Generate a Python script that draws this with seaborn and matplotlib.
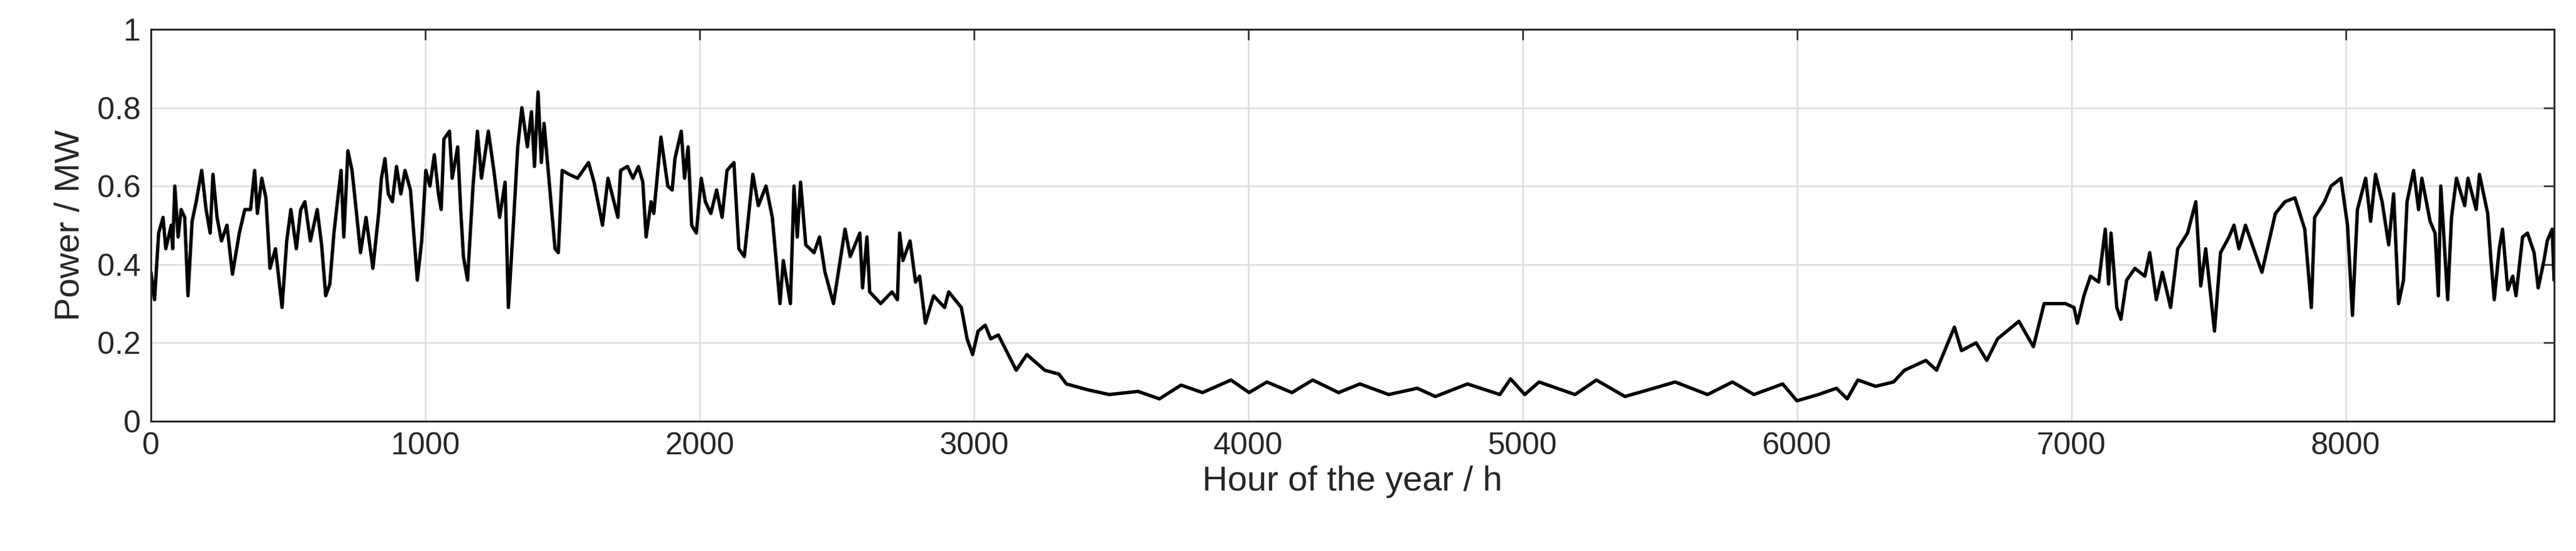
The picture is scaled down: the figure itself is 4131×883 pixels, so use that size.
import matplotlib
matplotlib.use("Agg")
import matplotlib.pyplot as plt
import seaborn as sns
import pandas as pd

# --- values (hour, MW) ---
hours = [
    0, 13, 28, 44, 54, 74, 79, 87, 99, 110, 123, 135, 150, 165, 185, 201, 216, 226, 241, 257,
    277, 297, 322, 342, 363, 378, 388, 404, 419, 434, 454, 478, 495, 510, 530, 546, 561, 581, 606, 622,
    637, 652, 667, 683, 693, 703, 718, 733, 748, 764, 784, 809, 830, 840, 853, 865, 880, 895, 911, 926,
    946, 971, 987, 1002, 1017, 1033, 1048, 1058, 1068, 1088, 1098, 1118, 1129, 1139, 1154, 1174, 1190, 1205, 1230, 1250,
    1271, 1291, 1303, 1321, 1337, 1352, 1372, 1387, 1398, 1411, 1423, 1433, 1458, 1473, 1485, 1499, 1524, 1555, 1595, 1615,
    1646, 1666, 1702, 1712, 1737, 1757, 1777, 1793, 1805, 1823, 1833, 1859, 1884, 1900, 1910, 1933, 1945, 1958, 1971, 1988,
    2006, 2021, 2041, 2062, 2082, 2100, 2125, 2143, 2163, 2194, 2214, 2242, 2265, 2293, 2305, 2331, 2344, 2356, 2368, 2387,
    2417, 2437, 2457, 2488, 2508, 2530, 2549, 2584, 2594, 2610, 2620, 2660, 2701, 2721, 2729, 2741, 2767, 2787, 2802, 2823,
    2853, 2893, 2908, 2954, 2975, 2995, 3015, 3041, 3061, 3089, 3154, 3193, 3258, 3310, 3337, 3415, 3493, 3598, 3676, 3755,
    3833, 3937, 4003, 4068, 4159, 4235, 4329, 4407, 4512, 4616, 4682, 4799, 4917, 4956, 5008, 5060, 5191, 5269, 5373, 5478,
    5556, 5674, 5765, 5843, 5948, 6000, 6078, 6144, 6183, 6222, 6287, 6352, 6392, 6470, 6509, 6574, 6600, 6653, 6692, 6731,
    6809, 6862, 6901, 6979, 7010, 7022, 7046, 7070, 7100, 7124, 7136, 7145, 7166, 7181, 7202, 7232, 7268, 7286, 7310, 7332,
    7362, 7388, 7424, 7454, 7472, 7490, 7522, 7544, 7575, 7593, 7611, 7635, 7695, 7744, 7779, 7815, 7851, 7875, 7887, 7923,
    7947, 7983, 8007, 8025, 8043, 8073, 8091, 8109, 8133, 8157, 8175, 8193, 8211, 8224, 8248, 8266, 8278, 8308, 8326, 8338,
    8347, 8372, 8386, 8404, 8434, 8446, 8476, 8488, 8518, 8530, 8542, 8560, 8572, 8591, 8609, 8621, 8645, 8663, 8687, 8702,
    8723, 8735, 8753, 8760,
]
power = [
    0.38, 0.31, 0.48, 0.52, 0.44, 0.50, 0.44, 0.60, 0.47, 0.54, 0.52, 0.32, 0.51, 0.56, 0.64, 0.54, 0.48, 0.63, 0.52, 0.46,
    0.50, 0.375, 0.48, 0.54, 0.54, 0.64, 0.53, 0.62, 0.57, 0.39, 0.44, 0.29, 0.46, 0.54, 0.44, 0.54, 0.56, 0.46, 0.54, 0.45,
    0.32, 0.35, 0.48, 0.58, 0.64, 0.47, 0.69, 0.64, 0.54, 0.43, 0.52, 0.39, 0.53, 0.62, 0.67, 0.58, 0.56, 0.65, 0.58, 0.64,
    0.59, 0.36, 0.46, 0.64, 0.60, 0.68, 0.58, 0.54, 0.72, 0.74, 0.62, 0.70, 0.54, 0.42, 0.36, 0.60, 0.74, 0.62, 0.74, 0.64,
    0.52, 0.61, 0.29, 0.50, 0.70, 0.80, 0.70, 0.79, 0.65, 0.84, 0.66, 0.76, 0.56, 0.44, 0.43, 0.64, 0.63, 0.62, 0.66, 0.61,
    0.50, 0.62, 0.52, 0.64, 0.65, 0.62, 0.65, 0.61, 0.47, 0.56, 0.53, 0.725, 0.60, 0.59, 0.67, 0.74, 0.62, 0.70, 0.50, 0.48,
    0.62, 0.56, 0.53, 0.59, 0.52, 0.64, 0.66, 0.44, 0.42, 0.63, 0.55, 0.60, 0.52, 0.30, 0.41, 0.30, 0.60, 0.47, 0.61, 0.45,
    0.43, 0.47, 0.38, 0.30, 0.39, 0.49, 0.42, 0.48, 0.34, 0.47, 0.33, 0.30, 0.33, 0.31, 0.48, 0.41, 0.46, 0.355, 0.37, 0.25,
    0.32, 0.29, 0.33, 0.29, 0.21, 0.17, 0.23, 0.245, 0.21, 0.22, 0.13, 0.17, 0.13, 0.12, 0.095, 0.08, 0.068, 0.076, 0.057, 0.092,
    0.073, 0.105, 0.073, 0.10, 0.073, 0.105, 0.073, 0.095, 0.068, 0.084, 0.063, 0.095, 0.068, 0.108, 0.068, 0.10, 0.068, 0.105, 0.063, 0.084,
    0.10, 0.068, 0.10, 0.068, 0.095, 0.052, 0.068, 0.084, 0.057, 0.105, 0.089, 0.10, 0.13, 0.155, 0.13, 0.24, 0.18, 0.20, 0.155, 0.21,
    0.255, 0.19, 0.30, 0.30, 0.29, 0.25, 0.32, 0.37, 0.355, 0.49, 0.35, 0.48, 0.29, 0.26, 0.36, 0.39, 0.37, 0.43, 0.31, 0.38,
    0.29, 0.44, 0.48, 0.56, 0.345, 0.44, 0.23, 0.43, 0.47, 0.50, 0.44, 0.50, 0.38, 0.53, 0.56, 0.57, 0.49, 0.29, 0.52, 0.56,
    0.60, 0.62, 0.50, 0.27, 0.54, 0.62, 0.51, 0.63, 0.56, 0.45, 0.58, 0.30, 0.36, 0.56, 0.64, 0.54, 0.62, 0.51, 0.48, 0.32,
    0.60, 0.31, 0.52, 0.62, 0.55, 0.62, 0.54, 0.63, 0.53, 0.41, 0.31, 0.44, 0.49, 0.335, 0.37, 0.32, 0.47, 0.48, 0.43, 0.34,
    0.41, 0.46, 0.49, 0.36,
]
x_ticks = [0, 1000, 2000, 3000, 4000, 5000, 6000, 7000, 8000]
y_ticks = [0, 0.2, 0.4, 0.6, 0.8, 1]
y_tick_labels = ["0", "0.2", "0.4", "0.6", "0.8", "1"]

sns.set_style("white")
plt.rcParams['font.family'] = ['Liberation Sans', 'DejaVu Sans']

df = pd.DataFrame({'hour': hours, 'power': power})

fig = plt.figure(figsize=(4131 / 300, 883 / 300), dpi=300)
ax = fig.add_axes([0.0586, 0.2356, 0.9329, 0.7112])
sns.lineplot(data=df, x='hour', y='power', color='black', linewidth=1.3, ax=ax)

ax.set_xlim(0, 8760)
ax.set_ylim(0, 1)
ax.set_xticks(x_ticks)
ax.set_yticks(y_ticks)
ax.set_yticklabels(y_tick_labels)
ax.grid(True, color='#dcdcdc', linewidth=0.6)
ax.tick_params(direction='in', length=4, width=0.6, labelsize=12, colors='#262626', pad=4)
for s in ax.spines.values():
    s.set_color('#262626')
    s.set_linewidth(0.7)
ax.tick_params(top=True, right=True, labeltop=False, labelright=False)
ax.set_xlabel("Hour of the year / h", fontsize=13.5, color='#262626', labelpad=2)
ax.set_ylabel("Power / MW", fontsize=13.5, color='#262626', labelpad=4)

fig.savefig("out.png", dpi=300)
